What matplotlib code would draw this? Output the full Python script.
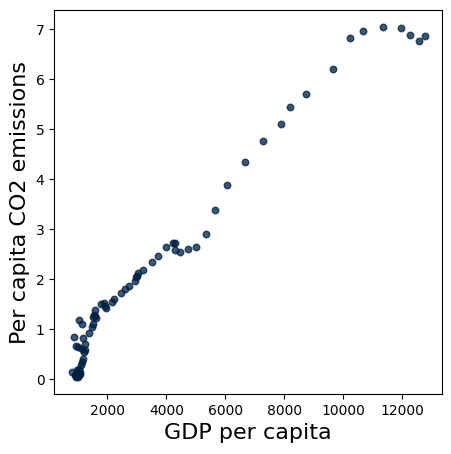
import matplotlib
matplotlib.use('Agg')
import matplotlib.pyplot as plt

# GDP per capita vs per capita CO2 emissions
gdp = [5346, 5661, 6068, 6658, 7289, 7899, 8204, 8736, 9662, 10238,
       10679, 11357, 11967, 12272, 12577, 12760,
       4000, 4228, 4306, 4295, 4475, 4746, 5017, 3526, 3729, 3221,
       3041, 3017, 2983, 2949, 2746, 2610, 2453, 2237, 2149,
       1783, 1871, 1956, 1922,
       1594, 1549, 1515, 1617, 1583, 1526, 1471, 1390,
       1041, 1132, 871, 1187, 929, 1017, 1132, 1244, 1244, 1210,
       1187, 1132, 1098, 1051, 983, 790, 905, 983, 1075,
       950, 1000, 1030, 960, 1060, 940, 1010]
co2 = [2.90, 3.38, 3.88, 4.34, 4.76, 5.10, 5.44, 5.70, 6.20, 6.82,
       6.96, 7.04, 7.02, 6.88, 6.76, 6.86,
       2.64, 2.72, 2.72, 2.58, 2.54, 2.60, 2.64, 2.34, 2.46, 2.19,
       2.12, 2.07, 2.04, 1.97, 1.87, 1.81, 1.72, 1.60, 1.54,
       1.50, 1.53, 1.43, 1.46,
       1.38, 1.28, 1.25, 1.23, 1.26, 1.10, 1.05, 0.93,
       1.18, 1.11, 0.84, 0.82, 0.67, 0.65, 0.61, 0.70, 0.58, 0.55,
       0.41, 0.35, 0.28, 0.21, 0.18, 0.14, 0.09, 0.06, 0.15,
       0.07, 0.11, 0.08, 0.13, 0.10, 0.05, 0.05]

fig = plt.figure(figsize=(4.51, 4.54), dpi=100)
ax = fig.add_axes([0.12, 0.132, 0.861, 0.846])
ax.scatter(gdp, co2, s=22, color='#001f3f', alpha=0.75)
ax.set_xlabel('GDP per capita', fontsize=16)
ax.set_ylabel('Per capita CO2 emissions', fontsize=16)
ax.set_xticks([2000, 4000, 6000, 8000, 10000, 12000])

fig.savefig('out.png', dpi=100)
